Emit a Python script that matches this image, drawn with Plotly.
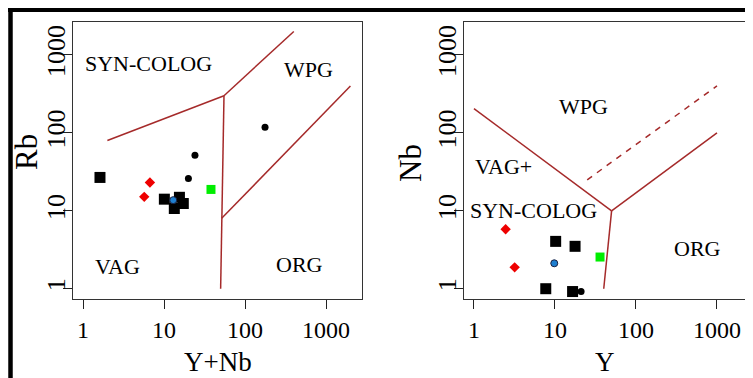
import math
import plotly.graph_objects as go

# reference canvas and browser body offset (default 8px page margin)
W, H = 753, 378
OFF = 8
FW, FH = W - OFF, H - OFF

# ---------------- data ----------------
# Left panel: Rb vs Y+Nb
L_sq_x = [1.62, 10.1, 13.4, 15.5, 17.3]
L_sq_y = [26.8, 14.1, 10.7, 14.9, 12.4]
L_ci_x = [24.1, 20.0, 176.6]
L_ci_y = [51.8, 26.0, 118.0]
L_di_x = [6.7, 5.7]
L_di_y = [23.1, 15.1]
L_bl_x = [13.0]
L_bl_y = [13.7]
L_gr_x = [38.0]
L_gr_y = [18.8]

# Right panel: Nb vs Y
R_sq_x = [10.2, 17.7, 7.7, 16.5]
R_sq_y = [4.05, 3.5, 1.0, 0.92]
R_ci_x = [21.0]
R_ci_y = [0.92]
R_di_x = [2.46, 3.18]
R_di_y = [5.8, 1.88]
R_bl_x = [9.8]
R_bl_y = [2.12]
R_gr_x = [36.0]
R_gr_y = [2.55]

# Boundary lines (Pearce et al. 1984)
L_lines = [
    ([2, 55], [80, 300]),
    ([55, 400], [300, 2000]),
    ([55, 51.5, 50], [300, 8, 1]),
    ([51.5, 2000], [8, 400]),
]
R_lines = [
    ([1, 50], [205, 10]),
    ([50, 1000], [10, 100]),
    ([50, 40], [10, 1]),
]
R_dash = ([25, 1000], [25, 400])

ticks = [1, 10, 100, 1000]
tick_text = ["1", "10", "100", "1000"]

L_labels = [("SYN-COLOG", 6.4, 776), ("WPG", 600, 656), ("VAG", 2.65, 1.91), ("ORG", 470, 2.06)]
R_labels = [("WPG", 22.8, 220), ("VAG+", 2.3, 36.6), ("SYN-COLOG", 5.5, 10.2), ("ORG", 578, 3.3)]

# ---------------- figure ----------------
FONT = "Liberation Serif"
LINE_COL = "#A52A2A"
fig = go.Figure()


def add_panel(xa, ya, sq, ci, di, bl, gr, lines, dash=None):
    for xs, ys in lines:
        fig.add_trace(go.Scatter(x=xs, y=ys, mode="lines", xaxis=xa, yaxis=ya,
                                 line=dict(color=LINE_COL, width=1.5), hoverinfo="skip"))
    if dash is not None:
        fig.add_trace(go.Scatter(x=dash[0], y=dash[1], mode="lines", xaxis=xa, yaxis=ya,
                                 line=dict(color=LINE_COL, width=1.5, dash="6px,6px"), hoverinfo="skip"))
    fig.add_trace(go.Scatter(x=sq[0], y=sq[1], mode="markers", xaxis=xa, yaxis=ya,
                             marker=dict(symbol="square", size=11, color="black")))
    fig.add_trace(go.Scatter(x=ci[0], y=ci[1], mode="markers", xaxis=xa, yaxis=ya,
                             marker=dict(symbol="circle", size=7, color="black")))
    fig.add_trace(go.Scatter(x=di[0], y=di[1], mode="markers", xaxis=xa, yaxis=ya,
                             marker=dict(symbol="diamond", size=8, color="#EE0000")))
    fig.add_trace(go.Scatter(x=bl[0], y=bl[1], mode="markers", xaxis=xa, yaxis=ya,
                             marker=dict(symbol="circle", size=7, color="#1E7FD0",
                                         line=dict(color="#1a2040", width=1))))
    fig.add_trace(go.Scatter(x=gr[0], y=gr[1], mode="markers", xaxis=xa, yaxis=ya,
                             marker=dict(symbol="square", size=9, color="#00EE00")))


add_panel("x", "y", (L_sq_x, L_sq_y), (L_ci_x, L_ci_y), (L_di_x, L_di_y),
          (L_bl_x, L_bl_y), (L_gr_x, L_gr_y), L_lines)
add_panel("x2", "y2", (R_sq_x, R_sq_y), (R_ci_x, R_ci_y), (R_di_x, R_di_y),
          (R_bl_x, R_bl_y), (R_gr_x, R_gr_y), R_lines, R_dash)


def px_x(p):
    return (p - OFF) / FW


def px_y(p):
    return 1 - (p - OFF) / FH


common_x = dict(type="log", tickvals=ticks, ticktext=tick_text, ticks="outside", ticklen=9,
                tickcolor="#222", tickwidth=1, showline=True, mirror=True, linecolor="#333",
                linewidth=1.2, showgrid=False, zeroline=False, automargin=False,
                tickfont=dict(family=FONT, size=24, color="black"))
common_y = dict(common_x)
common_y.update(tickangle=-90, ticklabelstandoff=-12,
                tickfont=dict(family=FONT, size=26, color="black"))

fig.update_layout(
    width=FW, height=FH,
    margin=dict(l=0, r=0, t=0, b=0),
    paper_bgcolor="white", plot_bgcolor="white",
    showlegend=False,
    xaxis=dict(common_x, domain=[px_x(73), px_x(362)], range=[-0.1235, 3.444], anchor="y"),
    yaxis=dict(common_y, domain=[px_y(299), px_y(22)], range=[-0.132, 3.423], anchor="x"),
    xaxis2=dict(common_x, domain=[px_x(464), px_x(751)], range=[-0.123, 3.42], anchor="y2"),
    yaxis2=dict(common_y, domain=[px_y(299), px_y(22)], range=[-0.132, 3.423], anchor="x2"),
)

ann = []
for txt, x, y in L_labels:
    ann.append(dict(text=txt, x=math.log10(x), y=math.log10(y), xref="x", yref="y",
                    xanchor="center", yanchor="middle",
                    showarrow=False, font=dict(family=FONT, size=22, color="black")))
for txt, x, y in R_labels:
    ann.append(dict(text=txt, x=math.log10(x), y=math.log10(y), xref="x2", yref="y2",
                    xanchor="center", yanchor="middle",
                    showarrow=False, font=dict(family=FONT, size=22, color="black")))
# axis titles
for txt, x, y, size, ang in [("Y+Nb", 218, 362, 27, 0), ("Y", 605, 362, 27, 0),
                             ("Rb", 26, 152, 31, -90), ("Nb", 411, 163, 31, -90)]:
    ann.append(dict(text=txt, x=px_x(x), y=px_y(y), xref="paper", yref="paper",
                    xanchor="center", yanchor="middle", textangle=ang,
                    showarrow=False, font=dict(family=FONT, size=size, color="black")))
fig.update_layout(annotations=ann)

# outer black border (top and left)
fig.add_shape(type="line", xref="paper", yref="paper", x0=0, x1=1, y0=px_y(9.5), y1=px_y(9.5),
              line=dict(color="black", width=5))
fig.add_shape(type="line", xref="paper", yref="paper", x0=px_x(10.5), x1=px_x(10.5), y0=0, y1=px_y(7),
              line=dict(color="black", width=4.5))

fig.write_html("out.html")
